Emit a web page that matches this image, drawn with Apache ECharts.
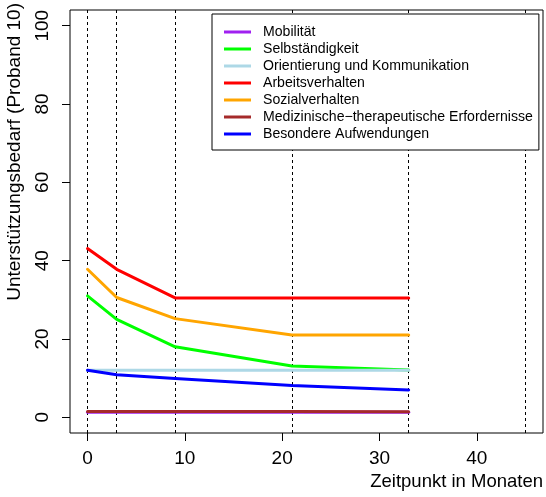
<!DOCTYPE html>
<html>
<head>
<meta charset="utf-8">
<script src="https://cdn.jsdelivr.net/npm/echarts@6/dist/echarts.min.js"></script>
<style>html,body{margin:0;padding:0;background:#fff}#c{width:546px;height:497px}</style>
</head>
<body>
<div id="c"></div>
<script>
var months = [0, 3, 9, 21, 33];
var seriesNames = ["Mobilität", "Selbständigkeit", "Orientierung und Kommunikation", "Arbeitsverhalten", "Sozialverhalten", "Medizinische\u2212therapeutische Erfordernisse", "Besondere Aufwendungen"];
var mobilitaet = [1.3, 1.3, 1.3, 1.3, 1.3];
var selbststaendigkeit = [31, 25, 18, 13.1, 12.1];
var orientierung = [12, 12, 12, 12, 12];
var arbeitsverhalten = [43.1, 37.8, 30.5, 30.5, 30.5];
var sozialverhalten = [37.8, 30.6, 25.2, 21, 21];
var medizinisch = [1.5, 1.5, 1.5, 1.5, 1.4];
var besondere = [12, 10.9, 9.9, 8.1, 7.0];
var vlines = [0, 3, 9, 21, 33, 45];
var xTicks = [0, 10, 20, 30, 40];
var yTicks = [0, 20, 40, 60, 80, 100];
var xTitle = "Zeitpunkt in Monaten";
var yTitle = "Unterstützungsbedarf (Proband 10)";

var colors = ["#A020F0", "#00FF00", "#ADD8E6", "#FF0000", "#FFA500", "#A52A2A", "#0000FF"];
var values = [mobilitaet, selbststaendigkeit, orientierung, arbeitsverhalten, sozialverhalten, medizinisch, besondere];
var FONT = "Liberation Sans, Arial, sans-serif";

function pairs(xs, ys) { return xs.map(function (x, i) { return [x, ys[i]]; }); }

var series = [{
  type: 'line', data: [], silent: true, z: 1,
  markLine: {
    silent: true, symbol: 'none', animation: false, z: 1,
    label: { show: false },
    lineStyle: { color: '#000', width: 1, type: [3, 3] },
    data: vlines.map(function (v) { return { xAxis: v }; })
  }
}];
seriesNames.forEach(function (n, i) {
  series.push({
    name: n, type: 'line', data: pairs(months, values[i]),
    symbol: 'none', color: colors[i], z: 3,
    lineStyle: { width: 3, color: colors[i], cap: 'round', join: 'round' },
    animation: false
  });
});

var chart = echarts.init(document.getElementById('c'), null, { renderer: 'canvas' });
chart.setOption({
  animation: false,
  backgroundColor: '#fff',
  grid: { left: 70, right: 3, top: 10, bottom: 64, show: true, borderColor: '#000', borderWidth: 1, backgroundColor: 'transparent' },
  xAxis: {
    type: 'value', min: -1.8, max: 46.8,
    axisLine: { show: false, onZero: false },
    splitLine: { show: false },
    axisTick: { show: true, inside: false, length: 8, customValues: xTicks, lineStyle: { color: '#000' } },
    axisLabel: { customValues: xTicks, color: '#000', fontSize: 19, fontFamily: FONT, margin: 16 }
  },
  yAxis: {
    type: 'value', min: -4, max: 104,
    axisLine: { show: false, onZero: false },
    splitLine: { show: false },
    axisTick: { show: true, inside: false, length: 8, customValues: yTicks, lineStyle: { color: '#000' } },
    axisLabel: { customValues: yTicks, rotate: 90, color: '#000', fontSize: 19, fontFamily: FONT, margin: 18 }
  },
  legend: {
    data: seriesNames, z: 100, zlevel: 1,
    orient: 'vertical', left: 212, top: 14,
    icon: 'rect', itemWidth: 27, itemHeight: 3, itemGap: 3,
    padding: [11, 6, 9, 12],
    borderColor: '#000', borderWidth: 1, backgroundColor: '#fff',
    selectedMode: false,
    textStyle: { fontSize: 14.1, fontFamily: FONT, color: '#000', lineHeight: 14, padding: [0, 0, 0, 7] },
    itemStyle: { borderWidth: 0 }
  },
  graphic: [
    { type: 'text', x: 543, y: 482, style: { text: xTitle, fill: '#000', font: '18.5px ' + FONT, textAlign: 'right', textVerticalAlign: 'middle' } },
    { type: 'text', x: 15, y: 3, rotation: Math.PI / 2, style: { text: yTitle, fill: '#000', font: '19px ' + FONT, textAlign: 'right', textVerticalAlign: 'middle' } }
  ],
  series: series
});
</script>
</body>
</html>
